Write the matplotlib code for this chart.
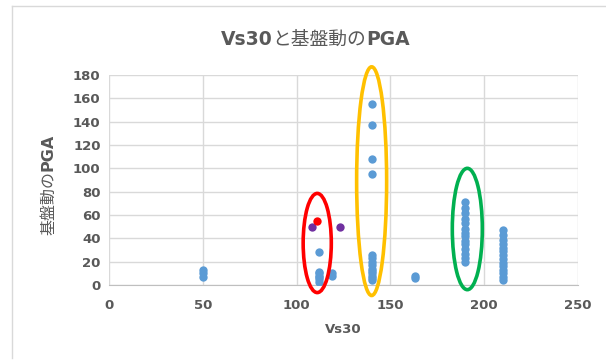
import matplotlib.pyplot as plt
from matplotlib.patches import Ellipse
from matplotlib.lines import Line2D

plt.rcParams['font.family'] = ['DejaVu Sans', 'Noto Sans CJK JP']

# Vs30 vs bedrock PGA, blue = all sites
vs30 = [50, 50, 50,
        112, 112, 112, 112, 112, 112, 112, 119, 119,
        140, 140, 140, 140, 140, 140, 140, 140, 140, 140, 140, 140, 140, 140,
        163, 163,
        190, 190, 190, 190, 190, 190, 190, 190, 190, 190, 190, 190, 190, 190,
        210, 210, 210, 210, 210, 210, 210, 210, 210, 210, 210, 210, 210, 210]
pga = [7, 10, 13,
       28, 3, 5, 7, 8, 10, 11, 8, 10,
       155, 137, 108, 95, 26, 23, 20, 17, 14, 12, 10, 8, 6, 4,
       6, 8,
       71, 66, 62, 57, 53, 48, 45, 42, 38, 35, 31, 27, 23, 20,
       47, 43, 39, 35, 32, 29, 26, 22, 19, 16, 13, 10, 7, 4]

red_vs30 = [111]
red_pga = [55]
purple_vs30 = [108, 123]
purple_pga = [49.5, 49.5]

# highlight ellipses: (center x, center y, width, height, colour)
rings = [(111, 36, 15, 85, '#ff0000'),
         (140, 89, 16, 196, '#ffc000'),
         (191, 48, 16, 104, '#00b050')]

title_parts = [('Vs30', 'bold', 'DejaVu Sans'), ('と基盤動の', 'normal', 'Noto Sans CJK JP'),
               ('PGA', 'bold', 'DejaVu Sans')]
ylabel_parts = [('基盤動の', 'normal', 'Noto Sans CJK JP'), ('PGA', 'bold', 'DejaVu Sans')]

grey = '#595959'


def mixed_text(fig, cx, cy, parts, size, rotation=0):
    # lay out text pieces of different weight one after another, centred on (cx, cy) pixels
    renderer = fig.canvas.get_renderer()
    items = []
    for s, w, fam in parts:
        t = fig.text(0, 0, s, fontsize=size, fontweight=w, family=fam, color=grey,
                     rotation=rotation, rotation_mode='anchor', ha='left', va='baseline',
                     transform=None)
        bb = t.get_window_extent(renderer)
        items.append((t, bb.height if rotation else bb.width))
    total = sum(l for _, l in items)
    pos = -total / 2
    for t, l in items:
        if rotation:
            t.set_position((cx, cy + pos))
        else:
            t.set_position((cx + pos, cy))
        pos += l


fig = plt.figure(figsize=(6.06, 3.62), dpi=100)
ax = fig.add_axes([109 / 606, 77 / 362, 469 / 606, 210 / 362])

ax.scatter(vs30, pga, s=36, color='#5b9bd5', zorder=3, linewidths=0)
ax.scatter(purple_vs30, purple_pga, s=36, color='#7030a0', zorder=3, linewidths=0)
ax.scatter(red_vs30, red_pga, s=36, color='#ff0000', zorder=4, linewidths=0)

for cx, cy, w, h, c in rings:
    ax.add_patch(Ellipse((cx, cy), w, h, fill=False, edgecolor=c,
                         linewidth=2.6, zorder=5, clip_on=False))

ax.set_xlim(0, 250)
ax.set_ylim(0, 180)
ax.set_xticks(range(0, 251, 50))
ax.set_yticks(range(0, 181, 20))
ax.grid(True, color='#d9d9d9', linewidth=1)
ax.set_axisbelow(True)
for side in ['top', 'right', 'left']:
    ax.spines[side].set_visible(False)
ax.spines['bottom'].set_color('#bfbfbf')
ax.tick_params(length=0, labelsize=9.5, labelcolor=grey, pad=6)
for lbl in ax.get_xticklabels() + ax.get_yticklabels():
    lbl.set_fontweight('bold')
ax.tick_params(axis='x', pad=10)

ax.set_xlabel('Vs30', fontsize=9.5, fontweight='bold', color=grey, labelpad=8)
mixed_text(fig, 315, 362 - 45, title_parts, 13.5)
mixed_text(fig, 53, 362 - 184, ylabel_parts, 11.5, rotation=90)

# chart frame
fig.add_artist(Line2D([12 / 606, 12 / 606], [1 - 6 / 362, 1 - 358 / 362],
                      color='#d9d9d9', linewidth=1, transform=fig.transFigure))
fig.add_artist(Line2D([12 / 606, 1], [1 - 6 / 362, 1 - 6 / 362],
                      color='#d9d9d9', linewidth=1, transform=fig.transFigure))

fig.savefig('out.png', dpi=100)
